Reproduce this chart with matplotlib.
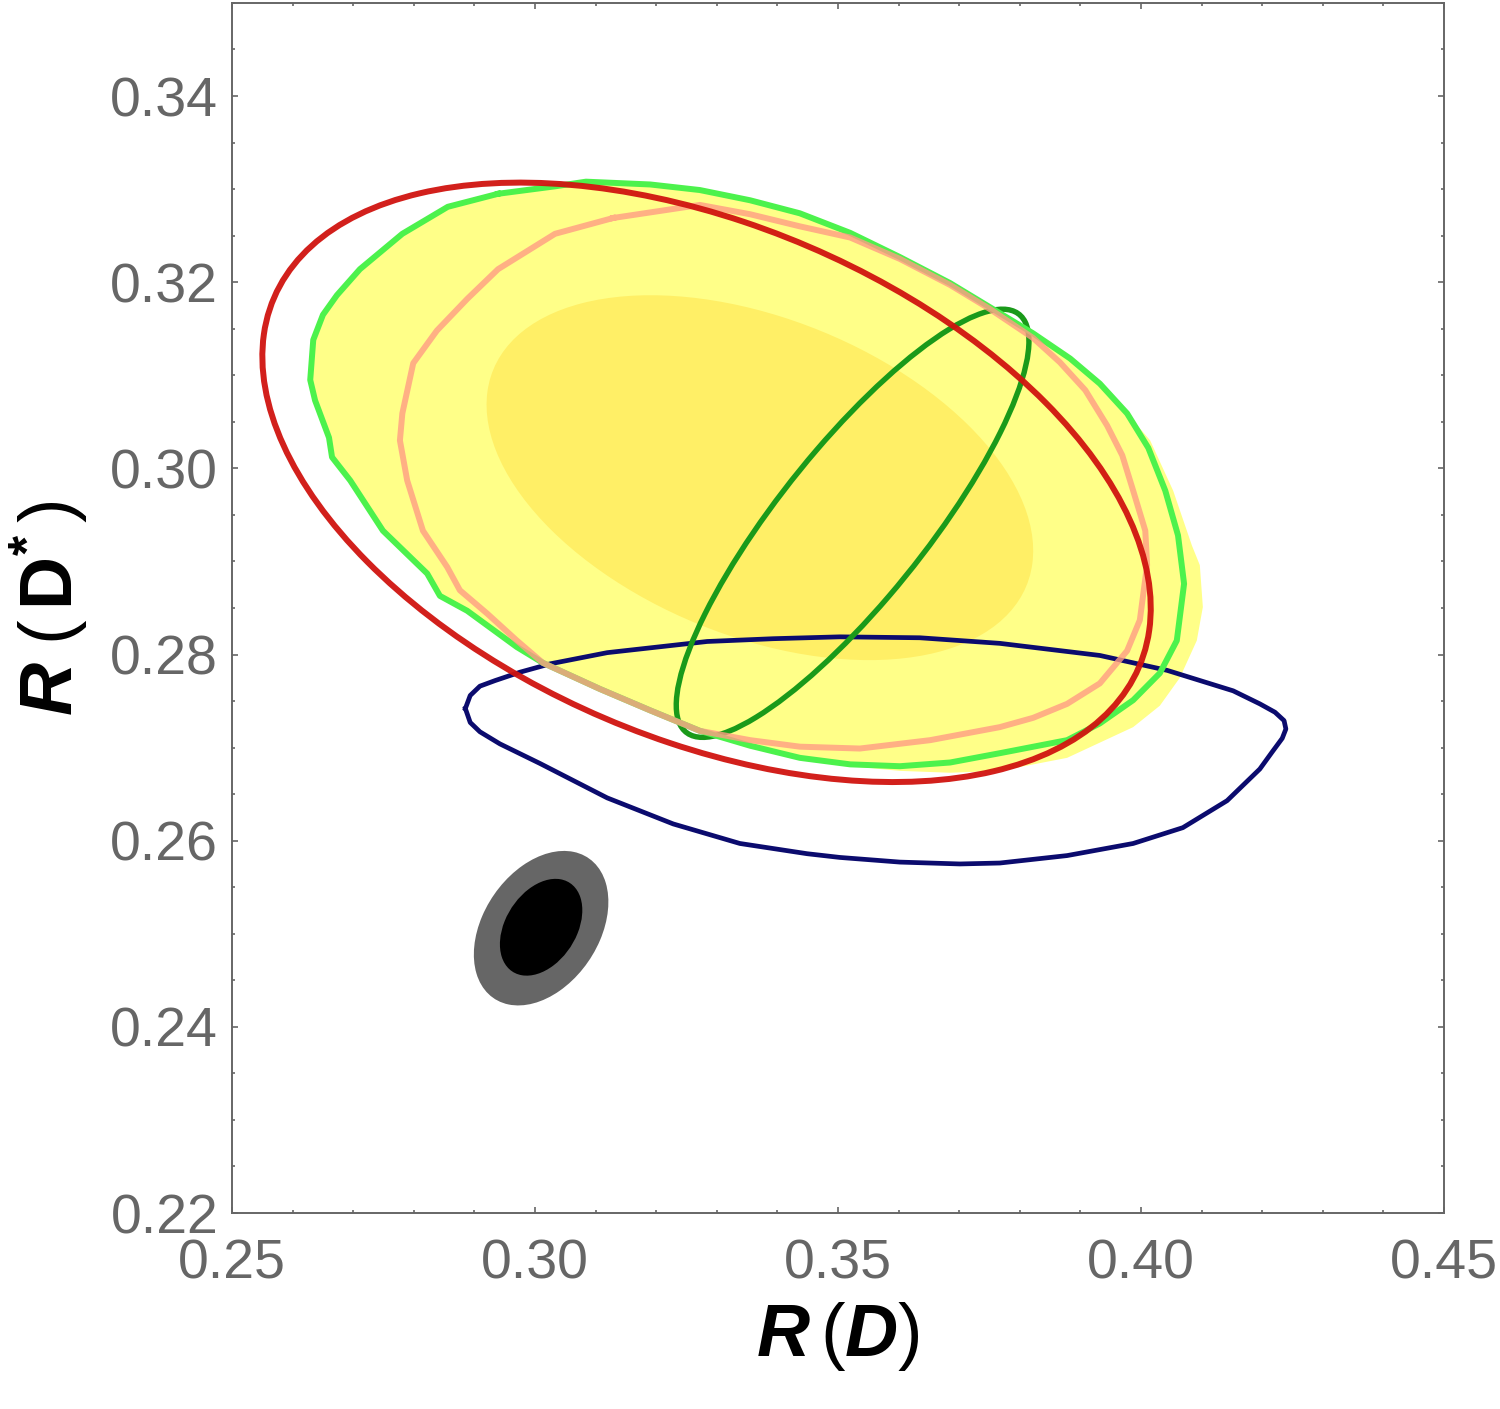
import numpy as np
import matplotlib
matplotlib.use('Agg')
import matplotlib.pyplot as plt
from matplotlib.patches import Ellipse
from matplotlib.ticker import MultipleLocator, FormatStrFormatter

plt.rcParams['font.family'] = ['Liberation Sans', 'DejaVu Sans']
plt.rcParams['mathtext.fontset'] = 'custom'
plt.rcParams['mathtext.rm'] = 'Liberation Sans'
plt.rcParams['mathtext.it'] = 'Liberation Sans:italic:bold'
plt.rcParams['mathtext.bf'] = 'Liberation Sans:bold'

# Elliptical regions: centre, half extent in R(D) / R(D*), correlation
# order: exp 1 sigma (inner yellow), SM 2 sigma, SM 1 sigma, red, dark green
center_x = [0.3371, 0.3010, 0.3010, 0.3283, 0.3524]
center_y = [0.2990, 0.2506, 0.2507, 0.2985, 0.2941]
half_x = [0.0451, 0.0111, 0.0068, 0.0733, 0.0291]
half_y = [0.0196, 0.0083, 0.0052, 0.0322, 0.0230]
corr = [-0.40, 0.34, 0.35, -0.42, 0.85]

# contours (R(D), R(D*))
green_x = [0.2939, 0.3033, 0.3084, 0.3190, 0.3272, 0.3355, 0.3437, 0.3520, 0.3602,
           0.3685, 0.3751, 0.3822, 0.3883, 0.3932, 0.3977, 0.4012, 0.4040, 0.4061,
           0.4071, 0.4059, 0.4031, 0.3987, 0.3932, 0.3878, 0.3767, 0.3685, 0.3602,
           0.3520, 0.3437, 0.3355, 0.3272, 0.3190, 0.3107, 0.3013, 0.2970, 0.2888,
           0.2843, 0.2822, 0.2749, 0.2695, 0.2665, 0.2660, 0.2637, 0.2629, 0.2634,
           0.2650, 0.2673, 0.2711, 0.2781, 0.2856]
green_y = [0.3295, 0.3303, 0.3308, 0.3305, 0.3299, 0.3288, 0.3274, 0.3253, 0.3227,
           0.3199, 0.3173, 0.3145, 0.3118, 0.3091, 0.3059, 0.3022, 0.2976, 0.2928,
           0.2876, 0.2815, 0.2780, 0.2751, 0.2726, 0.2708, 0.2694, 0.2684, 0.2680,
           0.2682, 0.2689, 0.2702, 0.2718, 0.2740, 0.2763, 0.2791, 0.2808, 0.2847,
           0.2863, 0.2887, 0.2933, 0.2987, 0.3012, 0.3033, 0.3073, 0.3095, 0.3138,
           0.3165, 0.3186, 0.3214, 0.3252, 0.3281]

yellow_x = [0.2939, 0.3033, 0.3084, 0.3190, 0.3272, 0.3355, 0.3437, 0.3520, 0.3602,
            0.3685, 0.3751, 0.3822, 0.3883, 0.3932, 0.3977, 0.4015, 0.4053, 0.4084,
            0.4097, 0.4102, 0.4092, 0.4064, 0.4031, 0.3987, 0.3878, 0.3767, 0.3685,
            0.3602, 0.3520, 0.3437, 0.3355, 0.3272, 0.3190, 0.3107, 0.3013, 0.2970,
            0.2888, 0.2843, 0.2822, 0.2749, 0.2695, 0.2665, 0.2660, 0.2637, 0.2629,
            0.2634, 0.2650, 0.2673, 0.2711, 0.2781, 0.2856]
yellow_y = [0.3295, 0.3303, 0.3308, 0.3305, 0.3299, 0.3288, 0.3274, 0.3253, 0.3227,
            0.3199, 0.3173, 0.3145, 0.3118, 0.3091, 0.3059, 0.3030, 0.2976, 0.2917,
            0.2896, 0.2851, 0.2815, 0.2775, 0.2745, 0.2722, 0.2689, 0.2675, 0.2673,
            0.2675, 0.2680, 0.2689, 0.2702, 0.2718, 0.2740, 0.2763, 0.2791, 0.2808,
            0.2847, 0.2863, 0.2887, 0.2933, 0.2987, 0.3012, 0.3033, 0.3073, 0.3095,
            0.3138, 0.3165, 0.3186, 0.3214, 0.3252, 0.3281]

salmon_x = [0.3129, 0.3272, 0.3355, 0.3437, 0.3520, 0.3602, 0.3685, 0.3751, 0.3822,
            0.3866, 0.3908, 0.3944, 0.3969, 0.3987, 0.4007, 0.4010, 0.3998, 0.3977,
            0.3932, 0.3878, 0.3822, 0.3767, 0.3652, 0.3536, 0.3437, 0.3355, 0.3272,
            0.3190, 0.3107, 0.3013, 0.2970, 0.2921, 0.2876, 0.2855, 0.2815, 0.2789,
            0.2777, 0.2781, 0.2799, 0.2838, 0.2888, 0.2939, 0.3033]
salmon_y = [0.3269, 0.3283, 0.3273, 0.3260, 0.3248, 0.3225, 0.3197, 0.3171, 0.3140,
            0.3114, 0.3084, 0.3046, 0.3014, 0.2976, 0.2933, 0.2896, 0.2837, 0.2804,
            0.2769, 0.2747, 0.2732, 0.2722, 0.2708, 0.2699, 0.2701, 0.2708, 0.2718,
            0.2740, 0.2763, 0.2791, 0.2815, 0.2844, 0.2869, 0.2894, 0.2933, 0.2987,
            0.3030, 0.3059, 0.3113, 0.3148, 0.3182, 0.3214, 0.3252]

navy_x = [0.2885, 0.2893, 0.2909, 0.2934, 0.2975, 0.3025, 0.3119, 0.3284, 0.3393,
          0.3503, 0.3635, 0.3767, 0.3932, 0.4043, 0.4152, 0.4196, 0.4221, 0.4236,
          0.4239, 0.4233, 0.4216, 0.4196, 0.4142, 0.4069, 0.3987, 0.3878, 0.3767,
          0.3701, 0.3602, 0.3503, 0.3449, 0.3338, 0.3228, 0.3119, 0.3008, 0.2942,
          0.2909, 0.2893]
navy_y = [0.2742, 0.2756, 0.2766, 0.2772, 0.2781, 0.2790, 0.2802, 0.2814, 0.2817,
          0.2819, 0.2818, 0.2812, 0.2799, 0.2783, 0.2761, 0.2747, 0.2738, 0.2729,
          0.2720, 0.2710, 0.2695, 0.2677, 0.2643, 0.2614, 0.2597, 0.2584, 0.2576,
          0.2575, 0.2577, 0.2582, 0.2586, 0.2597, 0.2618, 0.2646, 0.2683, 0.2704,
          0.2717, 0.2727]


def make_ellipse(i, **kw):
    sx, sy, r = half_x[i], half_y[i], corr[i]
    cov = np.array([[sx**2, r*sx*sy], [r*sx*sy, sy**2]])
    vals, vecs = np.linalg.eigh(cov)
    angle = np.degrees(np.arctan2(vecs[1, 1], vecs[0, 1]))
    return Ellipse((center_x[i], center_y[i]), 2*np.sqrt(vals[1]), 2*np.sqrt(vals[0]),
                   angle=angle, **kw)


def closed(xs, ys):
    return list(xs) + [xs[0]], list(ys) + [ys[0]]


fig = plt.figure(figsize=(15, 14.09), dpi=100)
ax = fig.add_axes([0.1547, 0.1391, 0.808, 0.8588])

# filled regions
ax.fill(yellow_x, yellow_y, facecolor='#ffff88', edgecolor='none', zorder=1)
ax.add_patch(make_ellipse(0, facecolor='#ffef66', edgecolor='none', zorder=2))
ax.add_patch(make_ellipse(1, facecolor='#666666', edgecolor='none', zorder=2))
ax.add_patch(make_ellipse(2, facecolor='#000000', edgecolor='none', zorder=3))

# contour lines
lw = 4.3
gx, gy = closed(green_x, green_y)
sx_, sy_ = closed(salmon_x, salmon_y)
nx, ny = closed(navy_x, navy_y)
ax.plot(nx, ny, color='#0b0b6e', linewidth=3.4, solid_joinstyle='round', zorder=4)
ax.add_patch(make_ellipse(4, facecolor='none', edgecolor='#1a9a1a', linewidth=3.9, zorder=5))
ax.plot(gx, gy, color='#4cf24c', linewidth=lw, solid_joinstyle='round', zorder=6)
ax.plot(sx_, sy_, color='#ff9c84', linewidth=lw, alpha=0.8, solid_joinstyle='round', zorder=7)
ax.add_patch(make_ellipse(3, facecolor='none', edgecolor='#d0140f', linewidth=lw,
                          alpha=0.95, zorder=8))

ax.set_xlim(0.25, 0.45)
ax.set_ylim(0.22, 0.35)

ax.xaxis.set_major_locator(MultipleLocator(0.05))
ax.xaxis.set_minor_locator(MultipleLocator(0.01))
ax.yaxis.set_major_locator(MultipleLocator(0.02))
ax.yaxis.set_minor_locator(MultipleLocator(0.005))
ax.xaxis.set_major_formatter(FormatStrFormatter('%.2f'))
ax.yaxis.set_major_formatter(FormatStrFormatter('%.2f'))

for s in ax.spines.values():
    s.set_color('#666666')
    s.set_linewidth(1.4)
ax.tick_params(which='both', direction='in', top=True, right=True, color='#666666',
               labelcolor='#666666', labelsize=40, width=1.2)
ax.tick_params(which='major', length=4)
ax.tick_params(which='minor', length=2.5)
ax.tick_params(axis='x', pad=18)
ax.tick_params(axis='y', pad=10)

ax.set_xlabel(r'$\mathit{R}\,(\mathit{D})$', fontsize=53, color='black')
ax.set_ylabel(r'$\mathit{R}\;(\,\mathbf{D}^{\mathbf{*}}\,)$', fontsize=53, color='black')
ax.xaxis.set_label_coords(0.5, -0.072)
ax.yaxis.set_label_coords(-0.117, 0.5)

fig.savefig('out.png', dpi=100)
